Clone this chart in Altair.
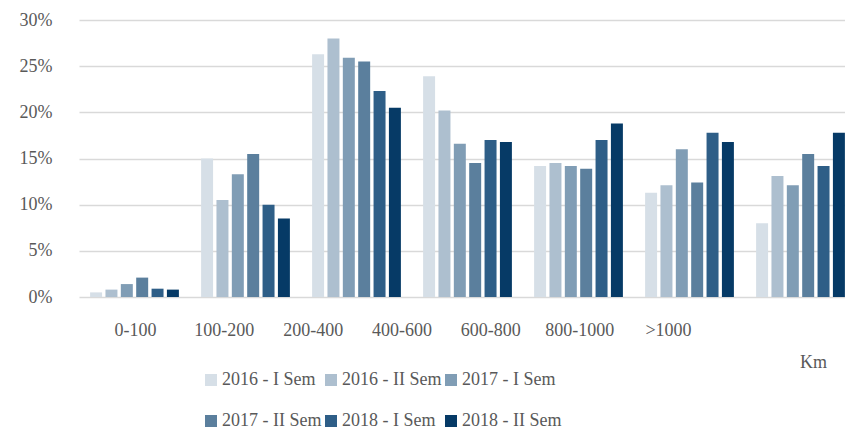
import altair as alt
import pandas as pd

categories = ["0-100", "100-200", "200-400", "400-600", "600-800", "800-1000", ">1000"]
series = ["2016 - I Sem", "2016 - II Sem", "2017 - I Sem", "2017 - II Sem", "2018 - I Sem", "2018 - II Sem"]
values = {
    "2016 - I Sem":  [0.5, 15.0, 26.3, 23.9, 14.2, 11.3, 8.0],
    "2016 - II Sem": [0.8, 10.5, 28.0, 20.2, 14.5, 12.1, 13.1],
    "2017 - I Sem":  [1.4, 13.3, 25.9, 16.6, 14.2, 16.0, 12.1],
    "2017 - II Sem": [2.1, 15.5, 25.5, 14.5, 13.9, 12.4, 15.5],
    "2018 - I Sem":  [0.9, 10.0, 22.3, 17.0, 17.0, 17.8, 14.2],
    "2018 - II Sem": [0.8, 8.5, 20.5, 16.8, 18.8, 16.8, 17.8],
}
colors = ["#D6DFE7", "#ADBFCF", "#809DB5", "#5B7F9D", "#2E5E87", "#063A66"]
y_ticks = [0, 0.05, 0.10, 0.15, 0.20, 0.25, 0.30]

rows = []
for s in series:
    for c, v in zip(categories, values[s]):
        rows.append({"cat": c, "series": s, "value": v / 100})
df = pd.DataFrame(rows)
lab = pd.DataFrame({"cat": categories})

FONT = "Liberation Serif"
GRAY = "#595959"

bars = alt.Chart(df).mark_bar().encode(
    x=alt.X("cat:N", sort=categories, axis=None,
            scale=alt.Scale(range=[0, 777], paddingInner=0.2, paddingOuter=0.1)),
    xOffset=alt.XOffset("series:N", sort=series,
                        scale=alt.Scale(paddingInner=0.22, paddingOuter=0.0)),
    y=alt.Y("value:Q", scale=alt.Scale(domain=[0, 0.30]),
            axis=alt.Axis(values=y_ticks, format=".0%", title=None, domain=False, ticks=False,
                          labelPadding=27, labelFont=FONT, labelFontSize=18, labelColor=GRAY,
                          gridColor="#D9D9D9", gridWidth=1.5)),
    color=alt.Color("series:N", sort=series,
                    scale=alt.Scale(domain=series, range=colors),
                    legend=alt.Legend(title=None, orient="none", legendX=123, legendY=351,
                                      direction="horizontal", gridAlign="each",
                                      columns=3, symbolType="square", symbolSize=144,
                                      symbolStrokeWidth=0, labelFont=FONT, labelFontSize=18,
                                      labelColor=GRAY, rowPadding=23, columnPadding=0,
                                      labelOffset=2, padding=0)),
)

labels = alt.Chart(lab).mark_point(opacity=0).encode(
    x=alt.X("cat:N", sort=categories,
            scale=alt.Scale(type="point", range=[56, 589], padding=0),
            axis=alt.Axis(orient="bottom", title="Km", domain=False, ticks=False, grid=False,
                          labelAngle=0, labelPadding=24, labelFont=FONT, labelFontSize=18,
                          labelColor=GRAY,
                          titleFont=FONT, titleFontSize=18, titleColor=GRAY,
                          titleFontWeight="normal", titleX=734, titleY=65,
                          titleAlign="center", titleBaseline="middle")),
)

chart = alt.layer(bars, labels).resolve_scale(x="independent").properties(
    width=766, height=277,
    autosize=alt.AutoSizeParams(type="none"),
    padding={"left": 79, "top": 20, "right": 0, "bottom": 142},
    background="white",
).configure_view(stroke=None)

chart.save("out.html", embed_options={"renderer": "svg", "actions": False})
